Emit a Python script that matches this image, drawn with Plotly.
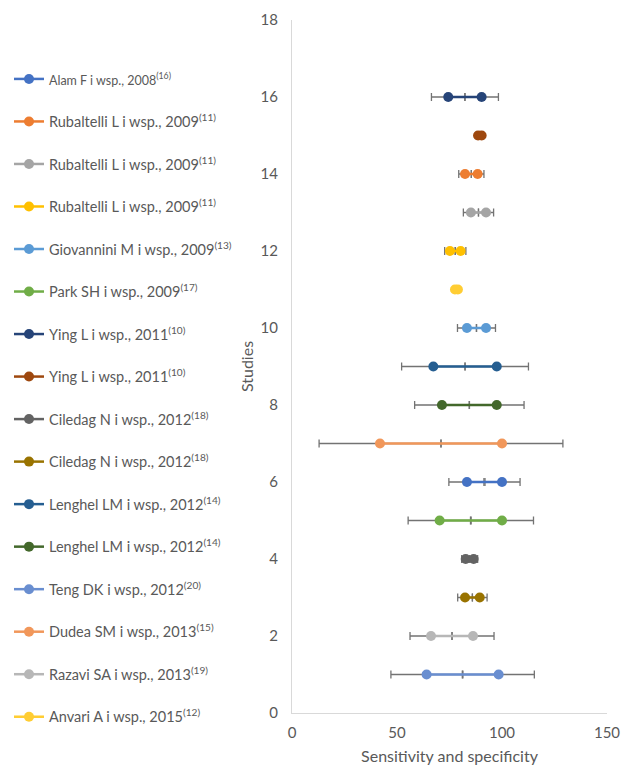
import plotly.graph_objects as go

# Legend order of studies
studies = [
    "<span style='font-size:12.5px'>Alam F i wsp., 2008<sup>(16)</sup></span>",
    "Rubaltelli L i wsp., 2009<sup>(11)</sup>",
    "Rubaltelli L i wsp., 2009<sup>(11)</sup>",
    "Rubaltelli L i wsp., 2009<sup>(11)</sup>",
    "Giovannini M i wsp., 2009<sup>(13)</sup>",
    "Park SH i wsp., 2009<sup>(17)</sup>",
    "Ying L i wsp., 2011<sup>(10)</sup>",
    "Ying L i wsp., 2011<sup>(10)</sup>",
    "Ciledag N i wsp., 2012<sup>(18)</sup>",
    "Ciledag N i wsp., 2012<sup>(18)</sup>",
    "Lenghel LM i wsp., 2012<sup>(14)</sup>",
    "Lenghel LM i wsp., 2012<sup>(14)</sup>",
    "Teng DK i wsp., 2012<sup>(20)</sup>",
    "Dudea SM i wsp., 2013<sup>(15)</sup>",
    "Razavi SA i wsp., 2013<sup>(19)</sup>",
    "Anvari A i wsp., 2015<sup>(12)</sup>",
]
study_row = [6, 14, 13, 12, 10, 5, 16, 15, 4, 3, 9, 8, 1, 7, 2, 11]
value_low = [83.3, 82.4, 85.2, 75.2, 83.3, 70.3, 74.4, 88.6, 82.7, 82.4, 67.3, 71.4, 64.1, 41.9, 66.2, 77.6]
value_high = [100, 88.4, 92.4, 80.3, 92.4, 100, 90.3, 90.3, 86.5, 89.4, 97.5, 97.5, 98.4, 100, 86.2, 79.0]
error = [8.6, 3.0, 3.6, 2.5, 4.5, 15.0, 8.0, 0.9, 1.9, 3.5, 15.1, 13.0, 17.0, 29.0, 10.0, 0.7]
colors = ["#4472C4", "#ED7D31", "#A5A5A5", "#FFC000", "#5B9BD5", "#70AD47",
          "#264478", "#9E480E", "#636363", "#997300", "#255E91", "#43682B",
          "#698ED0", "#F1975A", "#B7B7B7", "#FFCD33"]

x_ticks = [0, 50, 100, 150]
y_ticks = list(range(0, 19, 2))

FONT = "Lato, 'Open Sans', sans-serif"
W, H = 621, 765
fig = go.Figure()
for i, name in enumerate(studies):
    fig.add_trace(go.Scatter(
        x=[value_low[i], value_high[i]],
        y=[study_row[i], study_row[i]],
        mode="lines+markers",
        name=name,
        legendgroup=f"g{i}",
        line=dict(color=colors[i], width=2.5),
        marker=dict(color=colors[i], size=10),
        error_x=dict(type="constant", value=error[i], color="#737373",
                     thickness=1.3, width=4),
    ))

fig.update_layout(
    width=W, height=H,
    margin=dict(l=292, r=14, t=20, b=52, autoexpand=False),
    plot_bgcolor="white", paper_bgcolor="white",
    font=dict(family=FONT, size=12, color="#595959"),
    showlegend=True,
    legend=dict(
        xref="container", yref="container",
        x=9 / W, xanchor="left", y=1 - 63 / H, yanchor="top",
        font=dict(family=FONT, size=14.5, color="#595959"),
        tracegroupgap=20.67, bgcolor="rgba(0,0,0,0)", maxheight=740,
    ),
    xaxis=dict(
        range=[0, 150], tickvals=x_ticks, showgrid=False, zeroline=False,
        showline=True, linecolor="#D9D9D9", linewidth=1, ticks="",
        ticklabelstandoff=6,
        tickfont=dict(size=15, color="#595959"),
        title=dict(text="Sensitivity and specificity", font=dict(size=16, color="#595959"), standoff=11),
    ),
    yaxis=dict(
        range=[0, 18], tickvals=y_ticks, showgrid=False, zeroline=False,
        showline=True, linecolor="#D9D9D9", linewidth=1, ticks="",
        ticklabelstandoff=10,
        tickfont=dict(size=15, color="#595959"),
        title=dict(text="Studies", font=dict(size=16, color="#595959"), standoff=10),
    ),
)
fig.write_html(
    "out.html",
    config={"displayModeBar": False},
    post_script="document.body.style.margin='0';document.body.style.overflow='hidden';",
)
